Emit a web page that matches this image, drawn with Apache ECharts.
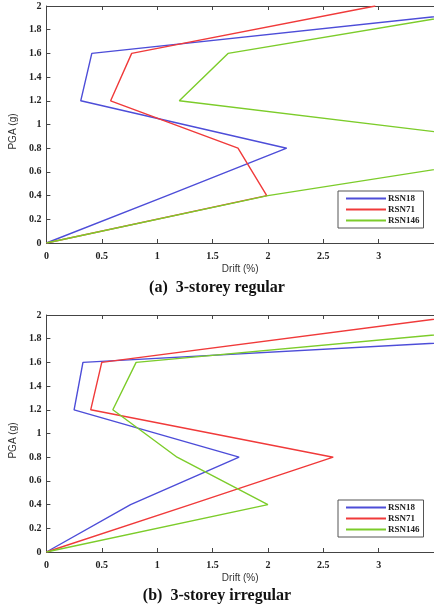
<!DOCTYPE html>
<html>
<head>
<meta charset="utf-8">
<script src="https://cdn.jsdelivr.net/npm/echarts@6/dist/echarts.min.js"></script>
<style>html,body{margin:0;padding:0;background:#fff;}#c{width:434px;height:612px;}</style>
</head>
<body>
<div id="c"></div>
<script>
var pga = [0, 0.4, 0.8, 1.2, 1.6, 2.0];
var seriesNames = ['RSN18', 'RSN71', 'RSN146'];
var regularRSN18 = [0, 1.09, 2.17, 0.31, 0.41, 4.4];
var regularRSN71 = [0, 1.99, 1.73, 0.58, 0.77, 2.97];
var regularRSN146 = [0, 2.0, 4.74, 1.2, 1.64, 4.2];
var irregularRSN18 = [0, 0.76, 1.74, 0.25, 0.33, 8.2];
var irregularRSN71 = [0, 1.3, 2.59, 0.40, 0.50, 3.8];
var irregularRSN146 = [0, 2.0, 1.18, 0.60, 0.81, 5.46];
var captions = ['(a)  3-storey regular', '(b)  3-storey irregular'];
var xName = 'Drift (%)';
var yName = 'PGA (g)';

var colors = ['#4d4dd8', '#f03a3a', '#7ccc2a'];
function pairs(xs) { return xs.map(function (x, i) { return [x, pga[i]]; }); }

var axisColor = '#444';
var tickFont = { fontFamily: 'Liberation Serif', fontSize: 10, color: '#222', fontWeight: 'bold' };

function xBottom(g) {
  return {
    gridIndex: g, type: 'value', min: 0, max: 3.5, interval: 0.5, position: 'bottom',
    name: xName, nameLocation: 'middle', nameGap: 21,
    nameTextStyle: { fontFamily: 'Liberation Sans', fontSize: 10, color: '#333' },
    axisLine: { show: true, lineStyle: { color: axisColor, width: 1 } },
    axisTick: { show: true, inside: true, length: 4, lineStyle: { color: axisColor } },
    axisLabel: Object.assign({ margin: 8, showMaxLabel: false,
      formatter: function (v) { return v === 3.5 ? '' : String(v); } }, tickFont),
    splitLine: { show: false }
  };
}
function xTop(g) {
  return {
    gridIndex: g, type: 'value', min: 0, max: 3.5, interval: 0.5, position: 'top',
    axisLine: { show: true, lineStyle: { color: axisColor, width: 1 } },
    axisTick: { show: true, inside: true, length: 4, lineStyle: { color: axisColor } },
    axisLabel: { show: false }, splitLine: { show: false }
  };
}
function yLeft(g) {
  return {
    gridIndex: g, type: 'value', min: 0, max: 2, interval: 0.2, position: 'left',
    name: yName, nameLocation: 'middle', nameGap: 25, nameRotate: 90,
    nameTextStyle: { fontFamily: 'Liberation Sans', fontSize: 10, color: '#333', padding: [0, 0, 0, -14] },
    axisLine: { show: true, lineStyle: { color: axisColor, width: 1 } },
    axisTick: { show: true, inside: true, length: 4, lineStyle: { color: axisColor } },
    axisLabel: Object.assign({ margin: 5,
      formatter: function (v) { return String(Math.round(v * 10) / 10); } }, tickFont),
    splitLine: { show: false }
  };
}
function mkSeries(name, xs, idx, g) {
  return {
    name: name, type: 'line', data: pairs(xs), xAxisIndex: g * 2, yAxisIndex: g,
    symbol: 'none', clip: true, lineStyle: { color: colors[idx], width: 1.4 },
    itemStyle: { color: colors[idx] }, animation: false
  };
}
function mkLegend(top) {
  return {
    left: 338, top: top, orient: 'vertical', data: seriesNames,
    icon: 'rect', itemWidth: 40, itemHeight: 2, itemGap: 2,
    padding: [3, 4, 3, 8], borderColor: '#555', borderWidth: 1,
    textStyle: { fontFamily: 'Liberation Serif', fontSize: 9, color: '#222', fontWeight: 'bold', padding: [0, 0, 0, -3] }
  };
}

var chart = echarts.init(document.getElementById('c'), null, { renderer: 'canvas' });
chart.setOption({
  backgroundColor: '#fff',
  animation: false,
  color: colors,
  title: [
    { text: captions[0], left: 'center', top: 275,
      textStyle: { fontFamily: 'Liberation Serif', fontSize: 16, fontWeight: 'bold', color: '#111' } },
    { text: captions[1], left: 'center', top: 583,
      textStyle: { fontFamily: 'Liberation Serif', fontSize: 16, fontWeight: 'bold', color: '#111' } }
  ],
  legend: [mkLegend(191), mkLegend(500)],
  grid: [
    { left: 43, top: 6, width: 391, height: 237, show: false },
    { left: 43, top: 315, width: 391, height: 237, show: false }
  ],
  xAxis: [xBottom(0), xTop(0), xBottom(1), xTop(1)],
  yAxis: [yLeft(0), yLeft(1)],
  series: [
    mkSeries('RSN18', regularRSN18, 0, 0),
    mkSeries('RSN71', regularRSN71, 1, 0),
    mkSeries('RSN146', regularRSN146, 2, 0),
    mkSeries('RSN18', irregularRSN18, 0, 1),
    mkSeries('RSN71', irregularRSN71, 1, 1),
    mkSeries('RSN146', irregularRSN146, 2, 1)
  ]
});
</script>
</body>
</html>
